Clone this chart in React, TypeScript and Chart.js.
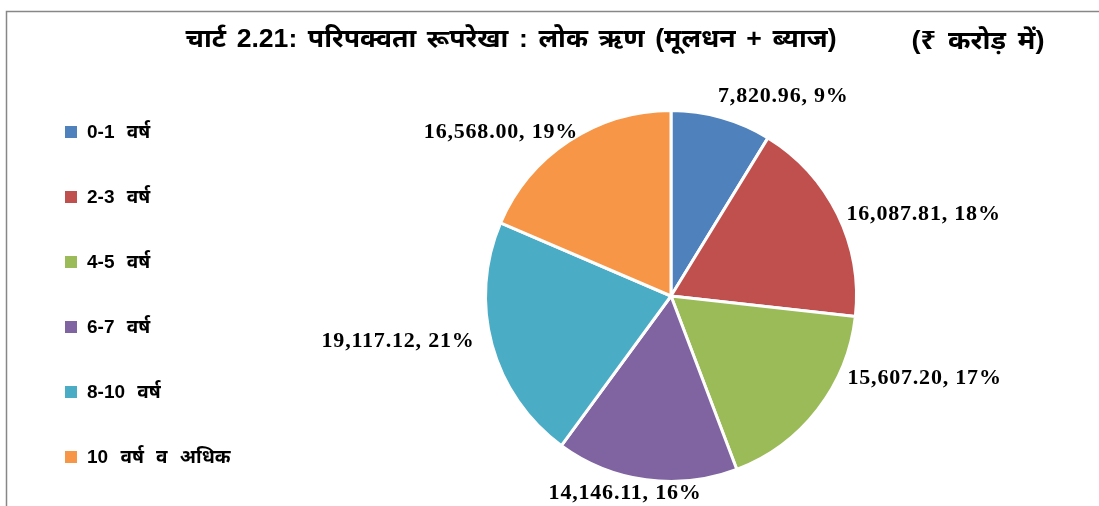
import React, { useEffect, useRef } from "react";
import { Chart, registerables } from "chart.js";

Chart.register(...registerables);

const categories = ["0-1 वर्ष", "2-3 वर्ष", "4-5 वर्ष", "6-7 वर्ष", "8-10 वर्ष", "10 वर्ष व अधिक"];
const values = [7820.96, 16087.81, 15607.2, 14146.11, 19117.12, 16568.0];
const colors = ["#4F81BD", "#C0504D", "#9BBB59", "#8064A2", "#4BACC6", "#F79646"];
const titleText = "चार्ट 2.21: परिपक्वता रूपरेखा : लोक ऋण (मूलधन + ब्याज)";
const unitText = "(₹ करोड़ में)";

// label nudges relative to the outer mid-point of each slice
const labelNudge: [number, number][] = [
  [62, -21],
  [86, 0],
  [107, -31],
  [-21, 13],
  [-94, -4],
  [-68, -9],
];

const SANS = '"Liberation Sans", Arial, "Noto Sans", "Noto Sans Devanagari", sans-serif';
const SERIF = '"Liberation Serif", "Times New Roman", serif';

function fitText(ctx: any, text: string, cx: number, cy: number, target: number) {
  const w = ctx.measureText(text).width;
  const s = target / w;
  ctx.save();
  ctx.translate(cx, cy);
  ctx.scale(s, 1);
  ctx.textAlign = "center";
  ctx.fillText(text, 0, 0);
  ctx.restore();
}

export default function App() {
  const ref = useRef<HTMLCanvasElement | null>(null);
  useEffect(() => {
    if (!ref.current) return;
    const total = values.reduce((a, b) => a + b, 0);
    const overlay = {
      id: "overlay",
      afterDraw(chart: any) {
        const ctx = chart.ctx;
        ctx.save();
        // frame
        ctx.strokeStyle = "#878787";
        ctx.lineWidth = 1.5;
        ctx.beginPath();
        ctx.moveTo(6.5, 506);
        ctx.lineTo(6.5, 11.5);
        ctx.lineTo(1099, 11.5);
        ctx.stroke();
        // title
        ctx.fillStyle = "#000";
        ctx.textBaseline = "middle";
        ctx.font = `bold 25px ${SANS}`;
        ctx.wordSpacing = "3px";
        fitText(ctx, titleText, 511, 40, 651);
        ctx.wordSpacing = "4px";
        fitText(ctx, unitText, 978, 42, 133);
        // legend
        ctx.textAlign = "left";
        ctx.font = `bold 19px ${SANS}`;
        ctx.wordSpacing = "7px";
        categories.forEach((c, i) => {
          const y = 132 + 65 * i;
          ctx.fillStyle = colors[i];
          ctx.fillRect(65, y - 6, 12, 12);
          ctx.fillStyle = "#000";
          ctx.fillText(c, 87, y + 1);
        });
        ctx.wordSpacing = "0px";
        // data labels
        const meta = chart.getDatasetMeta(0);
        ctx.textAlign = "center";
        ctx.font = `bold 22px ${SERIF}`;
        ctx.letterSpacing = "0.8px";
        meta.data.forEach((arc: any, i: number) => {
          const p = arc.getProps(["x", "y", "startAngle", "endAngle", "outerRadius"], true);
          const mid = (p.startAngle + p.endAngle) / 2;
          const ax = p.x + Math.cos(mid) * p.outerRadius;
          const ay = p.y + Math.sin(mid) * p.outerRadius;
          const v = values[i];
          const pct = Math.round((v / total) * 100);
          const txt =
            v.toLocaleString("en-US", { minimumFractionDigits: 2, maximumFractionDigits: 2 }) +
            ", " +
            pct +
            "%";
          ctx.fillStyle = "#000";
          ctx.fillText(txt, ax + labelNudge[i][0], ay + labelNudge[i][1]);
        });
        ctx.letterSpacing = "0px";
        ctx.restore();
      },
    };
    const chart = new Chart(ref.current, {
      type: "pie",
      data: {
        labels: categories,
        datasets: [
          {
            data: values,
            backgroundColor: colors,
            borderColor: "#ffffff",
            borderWidth: 3,
          },
        ],
      },
      options: {
        responsive: false,
        animation: false,
        layout: { padding: { left: 484, right: 241, top: 109, bottom: 23 } },
        plugins: {
          legend: { display: false },
          tooltip: { enabled: false },
          title: { display: false },
        },
      },
      plugins: [overlay],
    });
    return () => chart.destroy();
  }, []);
  return (
    <div style={{ position: "absolute", left: 0, top: 0, width: 1099, height: 506, background: "#fff" }}>
      <canvas ref={ref} width={1099} height={506} />
    </div>
  );
}
